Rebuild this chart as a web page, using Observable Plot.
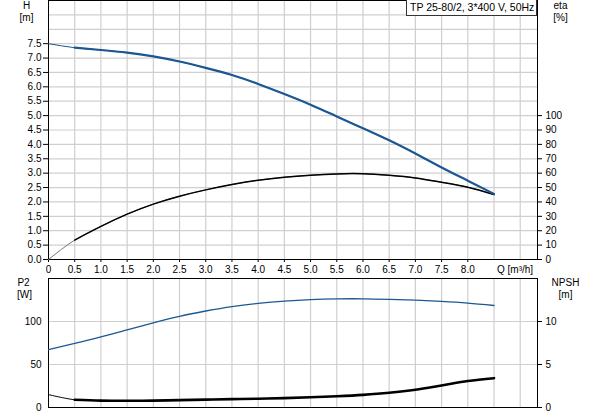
<!DOCTYPE html>
<html><head><meta charset="utf-8">
<script src="https://cdn.jsdelivr.net/npm/d3@7"></script>
<script src="https://cdn.jsdelivr.net/npm/@observablehq/plot@0.6"></script>
<style>
body{margin:0;background:#fff;font-family:"Liberation Sans",Arial,sans-serif;}
#wrap{position:relative;width:593px;height:415px;overflow:hidden;}
#wrap svg{display:block;}
#legend{position:absolute;left:406px;top:-1px;width:131px;height:17px;border:1px solid #333;background:#fff;box-sizing:border-box;font-size:10.5px;line-height:15px;padding-left:3px;color:#000;white-space:nowrap;}
</style></head><body>
<div id="wrap"><div id="topPanel"></div><div id="bottomPanel"></div><div id="legend"></div></div>
<script>
// ---- data ----
const flow  = [0, 0.5, 1, 1.5, 2, 2.5, 3, 3.5, 4, 4.5, 5, 5.5, 6, 6.5, 7, 7.5, 8, 8.5];
const head  = [7.5, 7.36, 7.28, 7.19, 7.06, 6.88, 6.66, 6.41, 6.10, 5.75, 5.38, 4.97, 4.56, 4.14, 3.68, 3.20, 2.74, 2.28];
const eta   = [0, 13.5, 23, 31.5, 38.5, 44, 48.4, 52.1, 55.1, 57.2, 58.6, 59.5, 59.6, 58.5, 56.7, 53.7, 50.2, 45.1];
const power = [67.4, 74.5, 82, 90.3, 98.5, 106, 112.2, 117.4, 121, 123.6, 125.4, 126.3, 126.4, 125.8, 124.8, 123.3, 121.3, 118.6];
const npsh  = [1.5, 0.9, 0.8, 0.78, 0.8, 0.86, 0.92, 0.97, 1.02, 1.09, 1.19, 1.31, 1.47, 1.71, 2.06, 2.56, 3.08, 3.41];

const xTicks      = [0, 0.5, 1, 1.5, 2, 2.5, 3, 3.5, 4, 4.5, 5, 5.5, 6, 6.5, 7, 7.5, 8];
const xTickLabels = ["0","0.5","1.0","1.5","2.0","2.5","3.0","3.5","4.0","4.5","5.0","5.5","6.0","6.5","7.0","7.5","8.0"];
const gridQ       = [0.5,1,1.5,2,2.5,3,3.5,4,4.5,5,5.5,6,6.5,7,7.5,8,8.5,9];
const hTicks      = [0,0.5,1,1.5,2,2.5,3,3.5,4,4.5,5,5.5,6,6.5,7,7.5];
const hGrid       = [0.5,1,1.5,2,2.5,3,3.5,4,4.5,5,5.5,6,6.5,7,7.5,8,8.5,9];
const etaTicks    = [0,10,20,30,40,50,60,70,80,90,100];
const p2Ticks     = [0,50,100];
const p2Grid      = [50,100];
const npshTicks   = [0,5,10];
const qLabel      = "Q [m³/h]";
const titleText   = "TP 25-80/2, 3*400 V, 50Hz";

// ---- build tables ----
const rows = flow.map((q, i) => ({q, h: head[i], e: eta[i] / 20, p: power[i], n: npsh[i] * 10}));
const main = rows.filter(d => d.q >= 0.5);
const fmtX = d => xTickLabels[xTicks.indexOf(d)];
const blue = "#1c5792";
const gridStroke = "#cfcfcf";
const font = {fontFamily: "'Liberation Sans', Arial, sans-serif", fontSize: "10px", color: "#000", background: "#fff", overflow: "visible"};
const label = (t, frameAnchor, dx, dy) =>
  Plot.text([t], {text: d => d, frameAnchor, dx, dy, textAnchor: "middle", lineAnchor: "middle", fontSize: 10});

const topChart = Plot.plot({
  width: 593, height: 275,
  marginLeft: 48, marginRight: 56, marginTop: 0, marginBottom: 16,
  style: font,
  x: {domain: [0, 9.33], axis: null},
  y: {domain: [0, 9], label: null},
  marks: [
    Plot.gridX(gridQ, {stroke: gridStroke, strokeOpacity: 1, strokeWidth: 1.2}),
    Plot.gridY(hGrid, {stroke: gridStroke, strokeOpacity: 1, strokeWidth: 1.2}),
    Plot.frame({stroke: "#000"}),
    Plot.axisY(hTicks, {anchor: "left", tickSize: 5, tickPadding: 2, label: null, tickFormat: d => d.toFixed(1), fontSize: 10}),
    Plot.axisY(etaTicks.map(v => v / 20), {anchor: "right", tickSize: 4, tickPadding: 4, label: null, tickFormat: d => String(Math.round(d * 20)), fontSize: 10}),
    Plot.axisX(xTicks, {anchor: "bottom", tickSize: 3, tickPadding: 3, label: null, tickFormat: fmtX, fontSize: 10}),
    Plot.text([qLabel], {x: 8.5, frameAnchor: "bottom", text: d => d, textAnchor: "start", lineAnchor: "middle", dx: 3, dy: 10, fontSize: 10}),
    label("H", "top-left", -22, 5),
    label("[m]", "top-left", -22, 17),
    label("eta", "top-right", 23, 5),
    label("[%]", "top-right", 23, 17),
    Plot.line(rows, {x: "q", y: "e", stroke: "#777", strokeWidth: 1, curve: "natural"}),
    Plot.line(main, {x: "q", y: "e", stroke: "#000", strokeWidth: 1.5, curve: "natural"}),
    Plot.line(rows, {x: "q", y: "h", stroke: blue, strokeWidth: 1, curve: "natural"}),
    Plot.line(main, {x: "q", y: "h", stroke: blue, strokeWidth: 2.2, curve: "natural"})
  ]
});

const bottomChart = Plot.plot({
  width: 593, height: 140,
  marginLeft: 48, marginRight: 56, marginTop: 3, marginBottom: 8,
  style: font,
  x: {domain: [0, 9.33], axis: null},
  y: {domain: [0, 150], label: null},
  marks: [
    Plot.gridX(gridQ, {stroke: gridStroke, strokeOpacity: 1, strokeWidth: 1.2}),
    Plot.gridY(p2Grid, {stroke: gridStroke, strokeOpacity: 1, strokeWidth: 1.2}),
    Plot.frame({stroke: "#000"}),
    Plot.axisY(p2Ticks, {anchor: "left", tickSize: 0, tickPadding: 7, label: null, tickFormat: d => String(d), fontSize: 10}),
    Plot.axisY(npshTicks.map(v => v * 10), {anchor: "right", tickSize: 4, tickPadding: 4, label: null, tickFormat: d => String(d / 10), fontSize: 10}),
    label("P2", "top-left", -25, 4),
    label("[W]", "top-left", -24, 16),
    label("NPSH", "top-right", 28, 4),
    label("[m]", "top-right", 28, 16),
    Plot.line(rows, {x: "q", y: "n", stroke: "#000", strokeWidth: 1, curve: "catmull-rom"}),
    Plot.line(main, {x: "q", y: "n", stroke: "#000", strokeWidth: 2.6, curve: "catmull-rom"}),
    Plot.line(rows, {x: "q", y: "p", stroke: blue, strokeWidth: 1.3, curve: "natural"})
  ]
});

document.getElementById("topPanel").appendChild(topChart);
document.getElementById("bottomPanel").appendChild(bottomChart);
document.getElementById("legend").textContent = titleText;
</script>
</body></html>
